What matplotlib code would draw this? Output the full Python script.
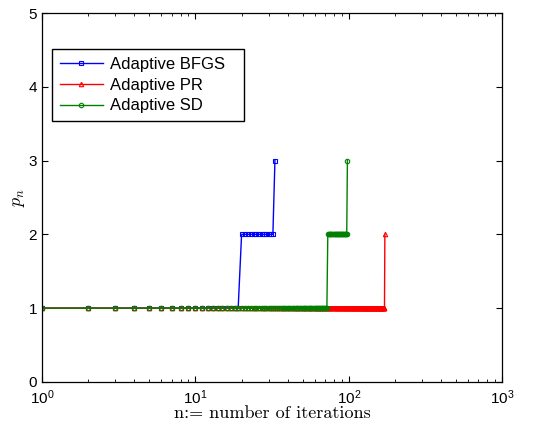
import numpy as np
from matplotlib import pyplot as plt

# piecewise-constant p_n: levels and how many iterations each lasts
bfgs_levels = [1, 2, 3]
bfgs_counts = [19, 13, 1]
pr_levels = [1, 2]
pr_counts = [171, 1]
sd_levels = [1, 2, 3]
sd_counts = [72, 25, 1]

def series(levels, counts):
    p = np.repeat(levels, counts)
    n = np.arange(1, len(p) + 1)
    return n, p

plt.rcParams["font.family"] = ["Liberation Sans", "DejaVu Sans"]
plt.rcParams["font.size"] = 11
plt.rcParams["mathtext.fontset"] = "cm"

fig = plt.figure(figsize=(5.33, 4.34), dpi=100)
ax = fig.add_axes([0.079, 0.12, 0.863, 0.85])

styles = [
    ("Adaptive BFGS", bfgs_levels, bfgs_counts, "blue", "s"),
    ("Adaptive PR", pr_levels, pr_counts, "red", "^"),
    ("Adaptive SD", sd_levels, sd_counts, "green", "o"),
]
for label, lv, ct, c, m in styles:
    n, p = series(lv, ct)
    ax.plot(n, p, color=c, marker=m, markersize=3.2, markerfacecolor="none",
            markeredgewidth=0.8, linewidth=1, label=label)

ax.set_xscale("log")
ax.set_xlim(1, 1000)
ax.set_ylim(0, 5)
ax.set_yticks([0, 1, 2, 3, 4, 5])
ax.tick_params(which="both", direction="in", top=True, right=True)
ax.tick_params(which="major", length=4)
ax.tick_params(which="minor", length=2)
ax.tick_params(axis="x", pad=5)
for s in ax.spines.values():
    s.set_linewidth(0.9)

ax.set_xlabel("n:= number of iterations", fontname="cmr10", fontsize=13, labelpad=-1)
ax.set_ylabel(r"$p_n$", fontsize=13, labelpad=1)

leg = ax.legend(loc="upper left", bbox_to_anchor=(0.0217, 0.715, 0.417, 0.187),
                mode="expand", borderaxespad=0, fancybox=False, framealpha=1,
                edgecolor="black", fontsize=12, handlelength=2.6, handletextpad=0.4,
                borderpad=0.45, labelspacing=0.35)
leg.get_frame().set_linewidth(1)

plt.savefig("out.png", dpi=100)
